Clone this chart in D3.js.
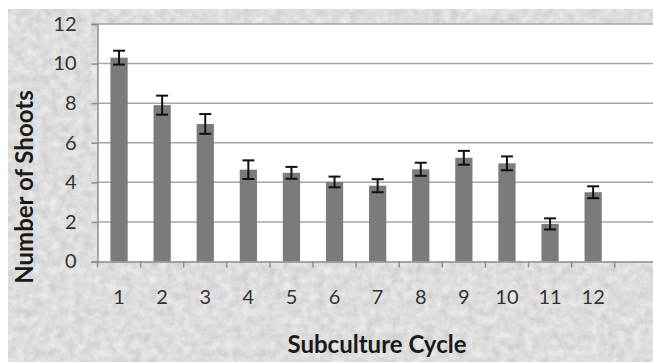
<!DOCTYPE html>
<html>
<head>
<meta charset="utf-8">
<script src="https://cdn.jsdelivr.net/npm/d3@7"></script>
<style>
  body { margin: 0; background: #fff; }
  svg { display: block; }
</style>
</head>
<body>
<svg id="chart" width="653" height="362"></svg>
<script>
// values
const cycles = ["1", "2", "3", "4", "5", "6", "7", "8", "9", "10", "11", "12", ""]
const shoots = [10.3, 7.9, 6.95, 4.64, 4.48, 4.02, 3.83, 4.66, 5.24, 4.96, 1.9, 3.5]
const errors = [0.35, 0.48, 0.5, 0.47, 0.3, 0.27, 0.33, 0.33, 0.35, 0.35, 0.28, 0.3]
const yTicks = [0, 2, 4, 6, 8, 10, 12]

const data = shoots.map((v, i) => ({ cycle: cycles[i], value: v, err: errors[i] }))

const margin = { top: 24, left: 97.5 }
const plotW = 43.1 * 13
const plotH = 237.5
const font = "Lato, 'Open Sans', sans-serif"

const svg = d3.select("#chart")

// mottled grey background
const defs = svg.append("defs")
const f = defs.append("filter").attr("id", "paper").attr("x", 0).attr("y", 0).attr("width", "100%").attr("height", "100%")
f.append("feTurbulence").attr("type", "fractalNoise").attr("baseFrequency", 0.12).attr("numOctaves", 3).attr("seed", 4).attr("result", "n")
f.append("feColorMatrix").attr("in", "n").attr("type", "matrix")
    .attr("values", "0 0 0 0 0.86  0 0 0 0 0.86  0 0 0 0 0.86  0 0 0 -1.0 1.05")
    .attr("result", "c")
f.append("feComposite").attr("in", "c").attr("in2", "SourceGraphic").attr("operator", "atop")

svg.append("rect")
    .attr("x", 8).attr("y", 9)
    .attr("width", 653).attr("height", 362)
    .attr("fill", "#d6d6d6")
svg.append("rect")
    .attr("x", 8).attr("y", 9)
    .attr("width", 653).attr("height", 362)
    .attr("fill", "#c4c4c4")
    .attr("filter", "url(#paper)")

const g = svg.append("g")
    .attr("transform", `translate(${margin.left}, ${margin.top})`)

const x = d3.scaleBand()
    .domain(cycles)
    .range([0, plotW])
    .paddingInner(0.6)
    .paddingOuter(0.3)

const y = d3.scaleLinear()
    .domain([0, 12])
    .range([plotH, 0])

g.append("rect")
    .attr("width", plotW).attr("height", plotH)
    .attr("fill", "#fff")

// gridlines
g.append("g")
    .selectAll("line")
    .data(yTicks.slice(1))
    .join("line")
    .attr("x1", 0).attr("x2", plotW)
    .attr("y1", d => y(d)).attr("y2", d => y(d))
    .attr("stroke", "#a6a6a6")
    .attr("stroke-width", 1.5)

// bars
g.append("g")
    .selectAll("rect")
    .data(data)
    .join("rect")
    .attr("x", d => x(d.cycle))
    .attr("y", d => y(d.value))
    .attr("width", x.bandwidth())
    .attr("height", d => plotH - y(d.value))
    .attr("fill", "#7b7b7b")

// error bars
const eb = g.append("g")
    .attr("stroke", "#111")
    .attr("stroke-width", 2)
    .selectAll("g")
    .data(data)
    .join("g")
    .attr("transform", d => `translate(${x(d.cycle) + x.bandwidth() / 2}, 0)`)
eb.append("line")
    .attr("y1", d => y(d.value - d.err)).attr("y2", d => y(d.value + d.err))
eb.append("line")
    .attr("x1", -6).attr("x2", 6)
    .attr("y1", d => y(d.value + d.err)).attr("y2", d => y(d.value + d.err))
eb.append("line")
    .attr("x1", -6).attr("x2", 6)
    .attr("y1", d => y(d.value - d.err)).attr("y2", d => y(d.value - d.err))

// y axis
const yAxis = g.append("g")
    .call(d3.axisLeft(y).tickValues(yTicks).tickSize(6).tickPadding(15))
yAxis.select(".domain").attr("stroke", "#8c8c8c").attr("stroke-width", 1.5)
yAxis.selectAll(".tick line").attr("stroke", "#8c8c8c").attr("stroke-width", 1.5)
yAxis.selectAll("text")
    .attr("fill", "#333")
    .style("font-family", font)
    .style("font-size", "20px")

// x axis, ticks between categories
const xAxis = g.append("g")
    .attr("transform", `translate(0, ${plotH})`)
    .call(d3.axisBottom(x).tickSize(0).tickPadding(28))
xAxis.select(".domain").attr("stroke", "#8c8c8c").attr("stroke-width", 1.5)
xAxis.selectAll("text")
    .attr("fill", "#333")
    .style("font-family", font)
    .style("font-size", "20px")
xAxis.append("g")
    .selectAll("line")
    .data(cycles)
    .join("line")
    .attr("x1", d => x(d) - x.step() * x.paddingInner() / 2)
    .attr("x2", d => x(d) - x.step() * x.paddingInner() / 2)
    .attr("y1", 0).attr("y2", 6)
    .attr("stroke", "#8c8c8c")
    .attr("stroke-width", 1.5)

// axis titles
svg.append("text")
    .text("Subculture Cycle")
    .attr("x", 377).attr("y", 353)
    .attr("text-anchor", "middle")
    .style("font-family", font)
    .style("font-weight", "bold")
    .style("font-size", "24px")
    .attr("fill", "#1a1a1a")

svg.append("text")
    .text("Number of Shoots")
    .attr("transform", "translate(33, 187) rotate(-90)")
    .attr("text-anchor", "middle")
    .style("font-family", font)
    .style("font-weight", "bold")
    .style("font-size", "24px")
    .attr("fill", "#1a1a1a")
</script>
</body>
</html>
